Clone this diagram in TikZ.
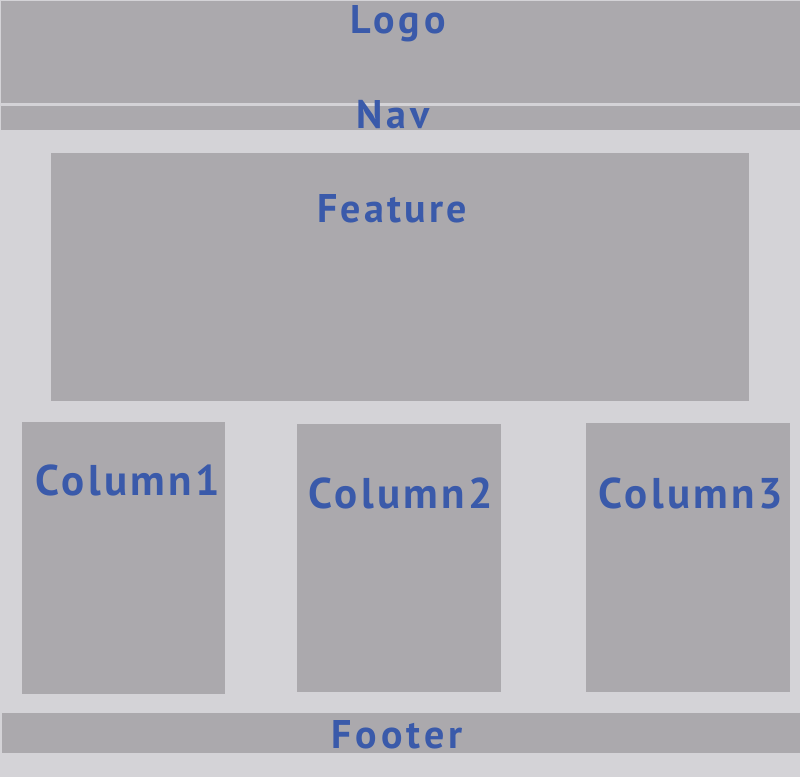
\documentclass[tikz,border=0pt]{standalone}
\usepackage{fontspec}
\setmainfont{PT Sans}
\newfontfamily\labelfont[LetterSpace=8]{PT Sans}
\newfontfamily\barfont[LetterSpace=10]{PT Sans}
\definecolor{bgc}{RGB}{212,211,215}
\definecolor{boxc}{RGB}{171,169,173}
\definecolor{sepc}{RGB}{222,221,225}
\definecolor{txtc}{RGB}{58,90,170}
\tikzset{
  box/.style={fill=boxc, draw=none, inner sep=0pt, anchor=north west},
  lbl/.style={text=txtc, anchor=base, inner sep=0pt},
  collbl/.style={lbl, font=\labelfont\bfseries\fontsize{43}{43}\selectfont},
  barlbl/.style={lbl, font=\barfont\bfseries\fontsize{40}{40}\selectfont}
}
\begin{document}
\begin{tikzpicture}[x=1pt,y=-1pt]
\fill[bgc] (0,0) rectangle (800,777);
\useasboundingbox (0,0) rectangle (800,777);
\node[box, minimum width=799pt, minimum height=102pt] (logo) at (1,1) {};
\node[box, minimum width=799pt, minimum height=24pt] (nav) at (1,106) {};
\node[box, minimum width=698pt, minimum height=248pt] (feature) at (51,153) {};
\node[box, minimum width=203pt, minimum height=272pt] (col1) at (22,422) {};
\node[box, minimum width=204pt, minimum height=268pt] (col2) at (297,424) {};
\node[box, minimum width=204pt, minimum height=269pt] (col3) at (586,423) {};
\node[box, minimum width=798pt, minimum height=40pt] (footer) at (2,713) {};
\node[barlbl] (logot) at (398,33) {Logo};
\node[barlbl] (navt) at (393,128) {Nav};
\node[lbl, font=\labelfont\bfseries\fontsize{40}{40}\selectfont] (featuret) at (392,222) {Feature};
\node[collbl] (col1t) at (128,495) {Column1};
\node[collbl] (col2t) at (401,508) {Column2};
\node[collbl] (col3t) at (691,508) {Column3};
\node[barlbl] (footert) at (397,748) {Footer};
\end{tikzpicture}
\end{document}
